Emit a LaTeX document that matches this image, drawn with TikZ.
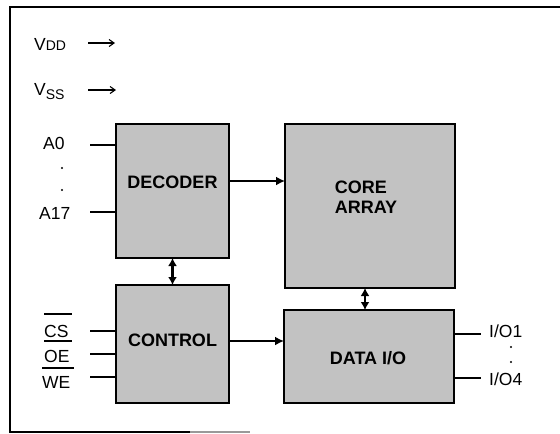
\documentclass[tikz,border=0pt]{standalone}
\usepackage{fontspec}
\setmainfont{Liberation Sans}
\usetikzlibrary{arrows.meta}

\tikzset{
  block/.style={draw=black, line width=2.4pt, fill=black!24},
  blocktext/.style={font=\fontsize{18}{20}\selectfont\bfseries, align=left, inner sep=0pt},
  pinlabel/.style={font=\fontsize{17.5}{19}\selectfont, inner sep=0pt},
  pinline/.style={line width=1.2pt},
  bus/.style={line width=2.6pt, -{Latex[length=9pt,width=9pt]}},
  busboth/.style={line width=2.6pt, {Latex[length=8pt,width=9pt]}-{Latex[length=8pt,width=9pt]}},
  supply/.style={line width=1.1pt, -{Straight Barb[length=5pt,width=7pt]}},
  dot/.style={circle, fill=black, inner sep=0pt, minimum size=2.4pt},
}

\begin{document}
\begin{tikzpicture}[x=1pt, y=-1pt]
\useasboundingbox (0,0) rectangle (560,434);

% outer frame (top and left edges, partial bottom edge)
\draw[line width=2pt] (560,7) -- (10,7) -- (10,432) -- (190,432);
\draw[line width=2pt, black!40] (190,432) -- (250,432);

% functional blocks
\draw[block] (116,124) rectangle (229,258);
\draw[block] (116,285) rectangle (229,403);
\draw[block] (285,124) rectangle (455,288);
\draw[block] (284,310) rectangle (454,403);

\node[blocktext] (decoder) at (172.5,182) {DECODER};
\node[blocktext] (control) at (172.5,340) {CONTROL};
\node[blocktext] (core) at (366,197) {CORE\\ARRAY};
\node[blocktext] (dataio) at (368,358) {DATA I/O};

% block anchors for connectors
\coordinate (decE) at (229,181);
\coordinate (coreW) at (285,181);
\coordinate (ctlE) at (229,341);
\coordinate (dataW) at (284,341);
\coordinate (decS) at (172.5,258);
\coordinate (ctlN) at (172.5,285);
\coordinate (coreS) at (365,288);
\coordinate (dataN) at (365,310);

\draw[bus] (decE) -- (coreW);
\draw[bus] (ctlE) -- (dataW);
\draw[busboth] (decS) -- (ctlN);
\draw[busboth] (coreS) -- (dataN);

% supply pins
\node[pinlabel, anchor=base west] (vdd) at (34,50) {V{\fontsize{14}{14}\selectfont DD}};
\node[pinlabel, anchor=base west] (vss) at (34,95) {V\raisebox{-4pt}{\fontsize{14}{14}\selectfont SS}};
\coordinate (vddS) at (88,43); \coordinate (vddE) at (115,43);
\coordinate (vssS) at (88,90); \coordinate (vssE) at (116,90);
\draw[supply] (vddS) -- (vddE);
\draw[supply] (vssS) -- (vssE);

% address pins
\node[pinlabel, anchor=west] (a0) at (43,143) {A0};
\node[pinlabel, anchor=west] (a17) at (39,213) {A17};
\coordinate (a0L) at (90,145);  \coordinate (a0R) at (116,145);
\coordinate (a17L) at (90,212); \coordinate (a17R) at (116,212);
\draw[pinline] (a0L) -- (a0R);
\draw[pinline] (a17L) -- (a17R);
\node[dot] (ad1) at (62,168) {};
\node[dot] (ad2) at (62,190) {};

% control pins (active low)
\node[pinlabel, anchor=west] (cs) at (44,331) {CS};
\node[pinlabel, anchor=west] (oe) at (44,356) {OE};
\node[pinlabel, anchor=west] (we) at (42,382) {WE};
\draw[line width=1.1pt] (44,314) -- (72,314);
\draw[line width=1.1pt] (44,341) -- (72,341);
\draw[line width=1.1pt] (42,368) -- (74,368);
\coordinate (csL) at (90,331); \coordinate (csR) at (116,331);
\coordinate (oeL) at (90,354); \coordinate (oeR) at (116,354);
\coordinate (weL) at (90,377); \coordinate (weR) at (116,377);
\draw[pinline] (csL) -- (csR);
\draw[pinline] (oeL) -- (oeR);
\draw[pinline] (weL) -- (weR);

% data pins
\node[pinlabel, anchor=west] (io1) at (489,331) {I/O1};
\node[pinlabel, anchor=west] (io4) at (489,379) {I/O4};
\coordinate (io1L) at (454,334); \coordinate (io1R) at (481,334);
\coordinate (io4L) at (454,378); \coordinate (io4R) at (481,378);
\draw[pinline] (io1L) -- (io1R);
\draw[pinline] (io4L) -- (io4R);
\node[dot] (iod1) at (511,347) {};
\node[dot] (iod2) at (511,362) {};
\end{tikzpicture}
\end{document}
